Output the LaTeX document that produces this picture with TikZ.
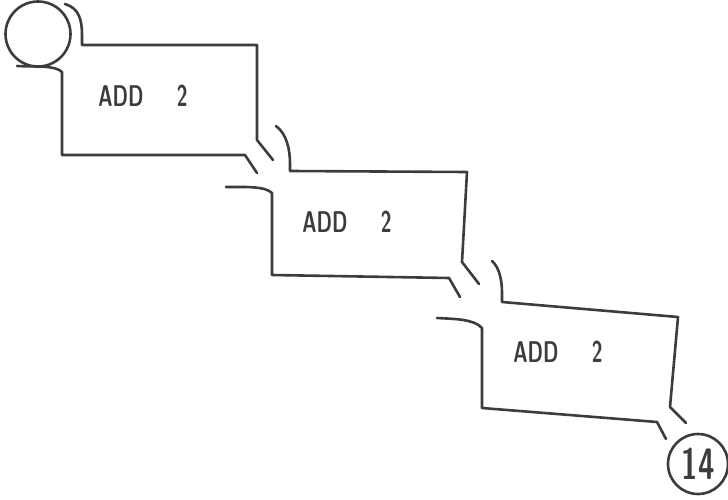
\documentclass[tikz,border=0pt]{standalone}
\usepackage{xcolor}
\usepackage{tikz}
\usetikzlibrary{positioning}
\definecolor{inkgray}{HTML}{3C3C3C}

\begin{document}
\begin{tikzpicture}[x=1pt, y=-1pt,
    pipe/.style={draw=inkgray, line width=2.6pt, line cap=round, line join=round},
    addlabel/.style={font=\sffamily\bfseries\fontsize{30}{30}\selectfont, text=inkgray},
    ball/.style={circle, draw=inkgray, line width=2.6pt, inner sep=0pt}]
  \useasboundingbox (0,0) rectangle (728,500);

  % the two ends
  \node[ball, minimum size=65pt] (start) at (38,34) {};
  \node[ball, minimum size=60pt, font=\sffamily\bfseries\fontsize{44}{44}\selectfont, text=inkgray]
    (result) at (698,464) {\scalebox{0.68}[1]{14}};

  % first box
  \draw[pipe] (65,4) .. controls (79,8) and (82,20) .. (82,35) -- (82,45)
    -- (257,45) -- (257,140) -- (273,160);
  \draw[pipe] (17,66) .. controls (35,67) and (55,65) .. (62,72)
    -- (62,155) -- (245,155) -- (257,173);
  \node[addlabel] (add1) at (143,96) {\scalebox{0.65}[1]{ADD\hspace{1.7em}2}};

  % second box
  \draw[pipe] (276,126) .. controls (287,134) and (290,150) .. (290,164) -- (290,171)
    -- (467,172) -- (462,262) -- (479,284);
  \draw[pipe] (226,187) .. controls (245,187) and (265,186) .. (272,193)
    -- (272,275) -- (449,278) -- (460,297);
  \node[addlabel] (add2) at (347,222) {\scalebox{0.65}[1]{ADD\hspace{1.7em}2}};

  % third box
  \draw[pipe] (492,261) .. controls (500,268) and (502,282) .. (502,293) -- (502,302)
    -- (678,317) -- (670,407) -- (686,423);
  \draw[pipe] (437,318) .. controls (455,319) and (474,319) .. (482,328)
    -- (482,408) -- (657,422) -- (666,439);
  \node[addlabel] (add3) at (558,352) {\scalebox{0.65}[1]{ADD\hspace{1.7em}2}};
\end{tikzpicture}
\end{document}
